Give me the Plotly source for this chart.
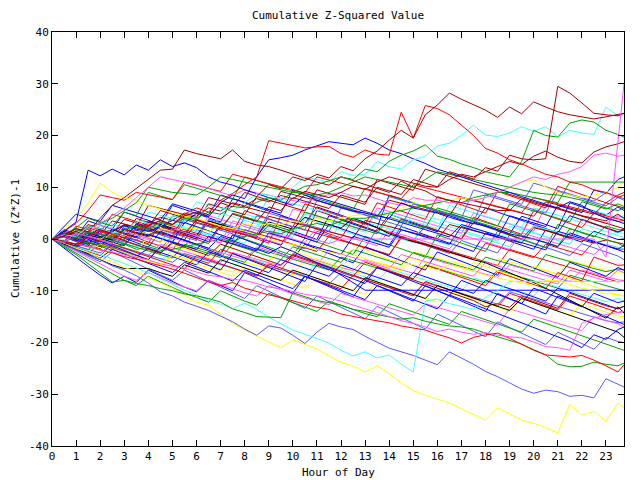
import plotly.graph_objects as go

HOURS = [0, 0.5, 1, 1.5, 2, 2.5, 3, 3.5, 4, 4.5, 5, 5.5,
         6, 6.5, 7, 7.5, 8, 8.5, 9, 9.5, 10, 10.5, 11, 11.5,
         12, 12.5, 13, 13.5, 14, 14.5, 15, 15.5, 16, 16.5, 17, 17.5,
         18, 18.5, 19, 19.5, 20, 20.5, 21, 21.5, 22, 22.5, 23, 23.5, 23.75]

X_TICKS = list(range(0, 24))
Y_TICKS = [-40, -30, -20, -10, 0, 10, 20, 30, 40]

RED = '#ff0000'
GREEN = '#00a000'
BLUE = '#0000ff'
MAGENTA = '#ff55ff'
CYAN = '#44ffff'
DKRED = '#a00000'
LTBLUE = '#5a5aff'
YELLOW = '#ffff00'
BLACK = '#000000'

Y1 = [0, -0.8, -1.8, -2.6, -3.8, -4.3, -5.5, -6.2, -7.5, -8.5, -9.5, -10.8,
      -12.2, -12.8, -14.5, -16.3, -17.6, -18.8, -19.9, -21, -19.5, -20.4, -21.2, -22.6,
      -23.8, -24.6, -25.7, -24.5, -26, -27.8, -29.3, -30.2, -30.9, -31.7, -32.8, -33.9,
      -35, -32.6, -33.8, -35, -35.6, -36.4, -37.5, -32, -34, -33.3, -35.2, -31.7, -32.6]
LB1 = [0, -1.2, -2, -3.1, -4, -5.2, -6, -7.1, -8.5, -10.2, -11, -12.2,
       -13, -13.8, -14.9, -16, -17.4, -18.6, -16.8, -17.2, -18.6, -20.2, -18, -16.3,
       -17, -17.5, -18.8, -20, -21.1, -21.8, -22.5, -23.4, -24.3, -21.8, -23, -24.2,
       -25.6, -26.6, -27.8, -29, -29.8, -29.2, -29.5, -30.4, -30.2, -30.7, -27, -28, -28.6]
C2 = [0, -0.8, -1.5, -2.3, -3, -3.9, -4.8, -5.6, -6.5, -7.7, -8.8, -9.9,
      -10.8, -11.8, -12.6, -13.4, -12.4, -13.6, -15.1, -16.4, -17.6, -18.4, -19.3, -20.1,
      -21.5, -22.6, -21.8, -23, -22.4, -24.2, -25.7, -12, -11.6, -12.5, -13, -13.6,
      -11.2, -10, -8.2, -8.2, -8.2, -8.2, -8.2, -8.2, -8.2, -8.2, -8.2, -8.2, -8.2]
G2 = [0, -1.6, -3, -4.8, -6.5, -8.3, -8, -8.6, -9, -9.6, -10, -10.6,
      -11, -11.5, -12.2, -13.5, -14.2, -15, -15.1, -15.2, -10.4, -11.2, -11.9, -12.3,
      -12.8, -13.6, -14, -14.6, -15, -15.5, -15.2, -15.9, -16.4, -16.8, -17, -17.4,
      -18.2, -18.9, -19.6, -20.3, -21.4, -22.4, -24.2, -24.7, -24.6, -23.8, -24.2, -24.5, -24]
R2 = [0, -0.5, -1.1, -1.6, -2, -2.7, -3.4, -3.9, -4.5, -5.2, -5.8, -6.6,
      -7.5, -8.3, -9, -8.4, -9.5, -10.2, -10.8, -11.3, -12, -12.6, -13.2, -13.6,
      -14.5, -15, -15.4, -15.8, -16.2, -16.8, -17.2, -17.6, -18.4, -19.1, -20.1, -19,
      -18.5, -18.2, -19.2, -20.4, -21.5, -22.4, -22.6, -22.8, -22.5, -23.4, -24.5, -25.7, -24.3]
M1 = [0, -0.3, -1, -1.4, -2.2, -2.5, -3.1, -3.6, -4, -4.8, -5.3, -5.6,
      -6.4, -7, -7.3, -7.8, -8, -8.6, -9.3, -9.6, -10.1, -10.7, -11, -11.4,
      -12, -12.8, -13.5, -14.2, -15, -15.8, -16.3, -17, -17.9, -17.4, -18, -18.4,
      -18.1, -18.6, -18.9, -19.1, -19.9, -20.8, -21, -21.5, -16.3, -15.3, -14.6, -14.2, -14]
DR1 = [0, 0.8, 2, 1.4, 4, 6.5, 8, 9.8, 11.5, 13.3, 13.5, 17.2,
       16.5, 16, 15.5, 17.2, 15, 14.3, 14, 13.3, 12.5, 11.8, 11, 10.4,
       12, 11.3, 10.5, 9.8, 9, 11.2, 10, 9.3, 8, 7.5, 7, 6.5,
       6, 5.5, 5.5, 7.8, 7, 6.4, 6, 5.2, 4.5, 4, 3.5, 4.8, 4]
DR2 = [0, 0.6, 1.5, 0.3, -0.5, 1.8, 1, 0.2, 2.6, 3.6, 2.8, 4.5,
       5.2, 4.4, 7, 6.2, 9, 8.2, 10.5, 9.7, 12, 11.3, 12.5, 11.8,
       14, 13.2, 15.5, 17, 19.1, 21, 19.5, 24, 25.9, 28.2, 27, 26,
       24.9, 23.5, 25.5, 24.2, 26.5, 25.5, 24.6, 24, 23.6, 23.2, 23.6, 24, 24.3]
DR3 = [0, -0.7, -1.4, 0.5, -0.2, -0.9, 1.8, 1.1, 0.4, 2.5, 1.8, 1.1,
       3.6, 2.9, 2.2, 4.8, 4.1, 3.4, 6.2, 5.5, 8, 7.3, 6.6, 5.9,
       8.5, 7.8, 7.1, 10, 9.3, 8.6, 11.5, 10.8, 10.1, 13, 12.3, 11.6,
       13.8, 13.1, 16.2, 15.5, 15.3, 15.5, 29.5, 28.2, 26.3, 24.3, 24, 23.8, 24.3]
DR4 = [0, 0.5, 1.2, 0.6, 2, 1.4, 2.8, 2.2, 3, 4.2, 3.6, 5,
       4.4, 6, 5.4, 7, 6.4, 7.8, 7.2, 8.4, 7.8, 9.2, 8.6, 8,
       9, 10.2, 9.6, 11, 12, 11.4, 10.8, 10.2, 10, 11.5, 12.5, 12,
       13, 14, 15, 14.4, 16, 17, 15.8, 15, 14.7, 16.8, 17.8, 18.4, 18.8]
R1 = [0, -0.5, -1, 0.5, 1.6, 0.9, 0.2, 1.8, 2.6, 3.5, 2.8, 4.8,
      6, 5.2, 7.5, 8.8, 10.5, 12, 19, 18.5, 18, 17.6, 17.8, 17.9,
      16.5, 15.8, 17.2, 16.4, 16.2, 24.5, 19.5, 25.8, 25.2, 24, 22, 20,
      17.5, 16.6, 15.3, 14.5, 13.5, 12.5, 12, 11, 10.5, 9.5, 9, 8, 8.5]
B1 = [0, 1.5, 3.3, 13.3, 12.2, 13.5, 12.4, 14.3, 13.3, 15.3, 14, 14.7,
      13.8, 12, 11, 10.4, 9.5, 8.8, 8, 7.2, 6.5, 8.5, 7.5, 6.7,
      6, 5.4, 5, 4.5, 4, 7, 6, 5.5, 5, 4.2, 3.5, 3,
      2.5, 1.8, 1, 0.5, 0, -0.7, -1.5, 1.2, 0.4, -0.4, -1.2, -2, -2.5]
B2 = [0, -0.5, -1, 0.8, 0.2, 1.5, 2.6, 1.9, 1.5, 2.4, 3.6, 3,
      5, 4.3, 7, 8.5, 7.8, 12, 15.3, 15.7, 16.2, 17.2, 18, 18.8,
      18.5, 18.2, 19.5, 18.5, 17.2, 16.5, 15.5, 14.6, 13.5, 12.8, 12, 11.2,
      10.5, 9.8, 9, 8.2, 7.5, 6.8, 6, 7.2, 6.5, 5, 4, 3.4, 3]
C1 = [0, 0.8, 0.5, 2.4, 2, 1.3, 1, 3.5, 3, 2.4, 4.5, 3.9,
      4, 6.5, 6, 5.5, 7, 8.8, 8.5, 7.8, 10, 12, 11.5, 11,
      13, 12.3, 12.5, 15, 14, 13.5, 15.3, 16, 18, 18.5, 20, 22,
      20.1, 19.8, 20.5, 21.7, 20.8, 21.7, 19.7, 21, 20.5, 20.2, 25.5, 23.8, 24]
G1 = [0, -0.5, 0.3, 1.2, 1, 0.4, 1.8, 2.5, 2, 3.2, 2.8, 4,
      4, 5.2, 4.8, 6.3, 6, 7.1, 8, 7.5, 9, 10.2, 10.5, 11.3,
      12, 11.5, 13.5, 13, 15, 16.2, 17, 18.2, 16, 15.4, 14.5, 13.8,
      13, 12.5, 12, 15, 21, 20, 19.7, 22.4, 23, 22.6, 21, 20.2, 19.7]
M2 = [0, -0.7, 1.2, 0.5, -0.2, -0.9, 1.5, 0.8, 0.1, -0.6, 2, 1.3,
      0.6, -0.1, -0.8, 1.8, 1.1, 0.4, -0.3, -1, 1.2, 0.5, -0.2, -0.9,
      0, 0, 0, 0, 0, 0, 0, 0, 0, 0, 0, 0,
      0, 0, 0, 0, 0, 0, 0, 0, 0, 0, -3.5, 19, 30]
M3 = [0, 0.4, 1, 2, 3, 4.5, 6, 8, 10, 12, 11.5, 11,
      10.5, 9.8, 9, 8.4, 9.5, 8.9, 8.5, 7.9, 7.5, 7, 8, 8.6,
      9, 8.3, 8.5, 7.8, 7, 6.5, 8, 7.5, 7.5, 7, 7, 7.5,
      8, 9, 10, 11, 12, 11.5, 12.5, 13, 14, 16.2, 16.6, 16, 16.2]
Y2 = [0, 2, 4, 7, 10.8, 9, 8, 7.5, 6.5, 5.8, 5, 4.4,
      4, 3.2, 2.5, 2, 1.5, 0.8, 0, -0.6, -1, -1.5, -2, -2.5,
      -3, -2, -2, -3, -4, -4.5, -5, -5.5, -6, -5, -5.5, -6.2,
      -7, -7.5, -8, -8.5, -9, -8, -8, -8.8, -9.5, -10, -10.5, -10.8, -11]
Y3 = [0, -0.5, -1, 0.5, 0, 1, 0.5, 1.5, 1, 2, 1.5, 2.2,
      2, 1.5, 2.5, 2, 3, 2.5, 3, 2.8, 3.5, 3, 4, 3.5,
      4, 4.5, 5, 4.5, 5, 6, 7, 6.5, 7, 7.5, 8, 7.5,
      8, 9, 10, 11, 11.5, 10, 9, 8.5, 8, 8.5, 9, 10, 11]
G3 = [0, -0.4, -1, -0.6, -1.2, -1.8, -1, -2, -1.5, -2.2, -2, -1.5,
      -1, -0.5, 0, -0.5, 0.5, 1, 1.5, 1, 2, 2.5, 3, 2.5,
      3.5, 4, 4, 4.5, 5, 5.5, 6, 6.5, 7, 7.5, 7, 8,
      8.5, 9, 9, 8.5, 8, 7.5, 7, 11, 11, 11, 11, 11, 11]
G4 = [0, 0.8, 1.5, 2.2, 3, 4, 5.5, 7, 10, 9.5, 9, 8.8,
      8.5, 10, 12, 11.5, 11, 10.5, 10, 9.5, 9, 8.8, 8.5, 9,
      10, 11, 12, 11.5, 11, 10.5, 10, 11.5, 13, 12.5, 12, 11.5,
      11, 10.5, 10, 9.5, 9, 8.7, 8.5, 8, 7.5, 6.8, 6, 5.5, 6]

MID01 = [0, 0.8, -0.2, -1, 1.6, 0.9, 0.2, 2.8, 2, 1.2, 0.6, -0.2,
         -1, -1.8, 0.5, -0.3, -1.2, -2, -2.8, -1.5, -2.4, -3.5, -4.6, -5.5,
         -7, -8.4, -9.9, -9.9, -9.9, -9.9, -9.9, -9.9, -9.9, -9.9, -9.9, -9.9,
         -9.9, -9.9, -9.9, -9.9, -9.9, -9.9, -9.9, -9.9, -9.9, -9.9, -9.9, -9.9, -9.9]
MID02 = [0, 0, 0, 0, 0, 0, -0.8, -1.5, 1, 0.3, -0.4, 3,
         2.3, 1.5, 0.8, 0, -0.8, 2.5, 1.8, 1, 0.3, 4, 3.3, 2.5,
         1.7, 1, 0.2, -0.6, 2.5, 1.8, 1, 0.3, -0.5, -1.2, 1.4, 0.7,
         0, -0.8, -1.5, 2, 1.3, 0.5, -0.3, -1, 3, 2.2, 1.5, 0.7, 0.3]
MID03 = [0, -1, -1.8, -0.5, -1.4, -2.2, 1, 0.3, -0.6, -1.3, -2.1, 0.8,
         0, -0.9, 2.5, 1.7, 0.8, 0, -0.8, 4.5, 3.6, 2.7, 1.9, 1,
         0.2, 3.8, 3, 2.1, 1.3, 0.5, -0.3, 2.5, 1.7, 0.9, 0, 4.2,
         3.4, 2.5, 1.7, 0.9, 5.5, 4.7, 3.8, 3, 2.2, 5, 4.2, 3.4, 3.6]
MID04 = [0, 0.6, -0.3, -1.1, -1.9, 0.4, -0.4, -1.2, -2, -2.8, -0.5, -1.3,
         -2.1, -2.9, -3.6, -1, -1.8, -2.6, -3.3, -4, -1.5, -2.3, -3, -3.8,
         -4.5, -2, -2.8, -3.5, -4.2, -5, -2.6, -3.3, -4, -4.7, -5.3, -6,
         -3.5, -4.2, -4.9, -5.5, -6.2, -3, -3.7, -4.4, -5, -5.7, -6.3, -5.8, -6]
MID05 = [0, 1.5, 0.7, -0.1, -0.8, 2, 1.2, 0.4, 3.5, 2.7, 1.9, 1.1,
         0.3, -0.5, 2.8, 2, 1.2, 0.4, -0.4, -1.2, 1.5, 0.7, -0.1, 4.5,
         3.7, 2.9, 2.1, 1.3, 0.5, 3.8, 3, 2.2, 1.4, 5, 4.2, 3.4,
         2.6, 1.8, 1, 4.4, 3.6, 2.8, 2, 7, 6.2, 5.4, 4.6, 6.2, 5.5]
MID06 = [0, -0.7, -1.4, -2.1, -0.4, -1.1, -1.8, -2.5, -3.2, -1, -1.7, -2.4,
         -3.1, -3.8, -4.5, -2.6, -3.3, -4, -4.6, -5.2, -2.8, -3.5, -4.2, -4.8,
         -5.5, -6.1, -4, -4.7, -5.3, -6, -6.6, -3.5, -4.2, -4.9, -5.6, -6.2,
         -6.8, -7.4, -5, -5.7, -6.3, -7, -7.6, -8.2, -6, -6.7, -7.3, -7.9, -8]
MID07 = [0, 1.2, 0.5, 2.8, 2, 1.2, 0.5, 4, 3.2, 2.4, 1.6, 0.8,
         0, 3.5, 2.7, 1.9, 1.1, 0.3, 2.6, 1.8, 1, 0.2, 5.5, 4.7,
         3.9, 3.1, 2.3, 1.5, 4.8, 4, 3.2, 2.4, 1.6, 0.8, 0, 3.2,
         2.4, 1.6, 0.8, 0, 2.5, 1.7, 0.9, 0.1, 3.8, 3, 2.2, 1.4, 1.7]
MID08 = [0, -0.5, 1.5, 0.8, 0, -0.7, 2.5, 1.7, 0.9, 0.1, -0.7, -1.5,
         1.8, 1, 0.2, -0.6, -1.4, -2.2, 0.5, -0.3, -1.1, -1.9, 1.5, 0.7,
         -0.1, -0.9, -1.7, 2, 1.2, 0.4, -0.4, -1.2, -2, -2.8, -0.3, -1.1,
         -1.9, -2.7, 0.8, 0, -0.8, -1.6, -2.4, -3.2, -0.9, -1.7, -2.5, -3.3, -4]
MID09 = [0, -0.9, -1.7, -2.5, -3.2, -2, -2.8, -3.5, -4.2, -4.9, -3, -3.7,
         -4.4, -5.1, -5.8, -6.4, -4.5, -5.1, -5.7, -6.3, -6.9, -3.8, -4.4, -5,
         -5.6, -6.2, -6.8, -4.5, -5.1, -5.7, -2.5, -3.1, -3.7, -4.3, -4.9, -5.5,
         -6.1, -3.8, -4.4, -5, -5.6, -6.2, -6.8, -4.2, -4.8, -5.4, -6, -6.6, -6.5]
MID10 = [0, -0.8, -1.6, -0.2, -1, -1.8, -2.6, -3.4, -1.8, -2.6, -3.4, -4.2,
         -5, -2.5, -3.3, -4.1, -4.9, -5.7, -6.5, -4, -4.8, -5.6, -6.4, -7.2,
         -5, -5.8, -6.6, -7.4, -8.2, -9, -6.5, -7.3, -8.1, -8.9, -9.7, -10.5,
         -8, -8.8, -9.6, -10.4, -11.2, -12, -9.5, -10.3, -11.1, -11.9, -12.7, -13.5, -13]
MID11 = [0, 0.7, 0, -0.7, -1.4, 1.2, 0.5, -0.2, -0.9, 3.2, 2.5, 1.8,
         1.1, 0.4, -0.3, -1, 1.8, 1.1, 0.4, -0.3, -1, -1.7, -2.4, 0.5,
         -0.2, -0.9, -1.6, -2.3, -3, 0.2, -0.5, -1.2, -1.9, -2.6, -3.3, -4,
         -0.8, -1.5, -2.2, -2.9, -3.6, -1, -1.7, -2.4, -3.1, -0.5, -1.2, -1.9, -2]
MID12 = [0, -0.6, 1.8, 1.1, 0.4, -0.3, -1, 2.5, 1.8, 1.1, 4.5, 3.8,
         3.1, 2.4, 1.7, 5, 4.3, 3.6, 2.9, 2.2, 1.5, 5.2, 4.5, 3.8,
         3.1, 2.4, 1.7, 1, 4.2, 3.5, 2.8, 2.1, 6, 5.3, 4.6, 3.9,
         3.2, 2.5, 6.8, 6.1, 5.4, 4.7, 4, 3.3, 7.2, 6.5, 5.8, 6.8, 6.3]
MID13 = [0, -0.8, -1.5, -2.2, -0.6, -1.3, -2, -2.7, -3.4, -4.1, -2.2, -2.9,
         -3.6, -4.3, -5, -5.7, -3.5, -4.2, -4.9, -5.6, -6.3, -7, -4.5, -5.2,
         -5.9, -6.6, -7.3, -8, -5.8, -6.5, -7.2, -7.9, -8.6, -9.3, -10, -7.5,
         -8.2, -8.9, -9.6, -10.3, -11, -8.6, -9.3, -10, -10.7, -11.4, -12.1, -11.5, -12]
MID14 = [0, 0.5, -0.3, 1.2, 0.5, -0.2, 2, 1.3, 0.6, 2.8, 2.1, 1.4,
         0.7, 3.5, 2.8, 2.1, 1.4, 0.7, 3.3, 2.6, 1.9, 4.2, 3.5, 2.8,
         2.1, 4, 3.2, 2.2, 1, 0.2, -0.5, -1, -1.8, -2.5, -3.2, -4,
         -4.6, -5.6, -6.6, -7.5, -8.4, -9.5, -10.6, -11.8, -13, -14.2, -15.3, -13.1, -14.3]
MID15 = [0, -1, -2, -3, -4, -5, -5.7, -5.7, -5.7, -6.5, -7.2, -5,
         -5.8, -6.6, -4, -4.8, -5.6, -6.4, -7.2, -8, -6, -6.8, -7.6, -8.4,
         -9.2, -10, -7.5, -8.3, -9.1, -9.9, -10.7, -11.5, -9, -9.8, -10.6, -11.4,
         -12.2, -13, -13.8, -11.5, -12.3, -13.1, -13.9, -14.7, -15.5, -16.3, -17.1, -18, -19]
MID16 = [0, 1, 0.2, -0.6, -1.4, 0.5, -0.3, -1.1, -1.9, -2.7, -0.8, -1.6,
         -2.4, -3.2, -1, -1.8, -2.6, -3.4, -4.2, -5, -3, -3.8, -4.6, -5.4,
         -6.2, -7, -7.8, -5.5, -6.3, -7.1, -7.9, -8.7, -9.5, -10.3, -11.1, -11.9,
         -13.1, -12.5, -13.2, -11, -11.8, -12.6, -13.4, -10.5, -11.3, -12.1, -12.9, -13.5, -13]
MID17 = [0, -0.6, -1.3, -2, -2.7, -1, -1.7, -2.4, -3.1, -3.8, -4.5, -2.8,
         -3.5, -4.2, -4.9, -5.6, -6.3, -7, -5.2, -5.9, -6.6, -7.3, -8, -8.7,
         -6.5, -7.2, -7.9, -8.6, -9.3, -10, -10.7, -8.4, -9.1, -9.8, -10.5, -11.2,
         -11.9, -12.6, -10.2, -10.9, -11.6, -12.3, -13, -13.7, -14.4, -15.1, -15.8, -16.2, -16]
MID18 = [0, 1.5, 0.8, 0.1, 2.6, 1.9, 1.2, 0.5, -0.2, 2.8, 2.1, 1.4,
         0.7, 0, -0.7, 3.5, 2.8, 2.1, 1.4, 0.7, 0, -0.7, 2.2, 1.5,
         0.8, 0.1, -0.6, -1.3, 1.6, 0.9, 0.2, -0.5, -1.2, -1.9, 0.8, 0.1,
         -0.6, -1.3, -2, 1.2, 0.5, -0.2, -0.9, -1.6, -2.3, -3, -1, -1.7, -2]
MID19 = [0, -0.7, -1.4, 0.8, 0.1, -0.6, -1.3, 1.5, 0.8, 0.1, -0.6, -1.3,
         -2, 0.5, -0.2, -0.9, -1.6, -2.3, 1.2, 0.5, -0.2, -0.9, -1.6, -2.3,
         -3, 0.5, -0.2, -0.9, -1.6, 1.8, 1.1, 0.4, -0.3, -1, 2.4, 1.7,
         1, 0.3, 4.5, 3.8, 3.1, 2.4, 6.5, 5.8, 5.1, 9.5, 8.8, 11.5, 12]
MID20 = [0, -1, -2, -2.8, -0.8, -1.6, -2.4, -3.2, -4, -1.5, -2.3, -3.1,
         -3.9, -4.7, -2, -2.8, -3.6, -4.4, -5.2, -6, -3.2, -4, -4.8, -5.6,
         -6.4, -7.2, -4.5, -5.3, -6.1, -6.9, -7.7, -5, -5.8, -6.6, -7.4, -8.2,
         -9, -6.4, -7.2, -8, -8.8, -9.6, -6.5, -7.3, -8.1, -3.5, -4.3, -5.1, -5]
MID21 = [0, 0.9, 0.1, -0.7, -1.5, 1.3, 0.5, -0.3, -1.1, -1.9, 0.6, -0.2,
         -1, -1.8, -2.6, 0.8, 0, -0.8, -1.6, -2.4, -3.2, 0.2, -0.6, -1.4,
         -2.2, -3, 0.5, -0.3, -1.1, -1.9, -2.7, -3.5, 0.8, 0, -0.8, -1.6,
         -2.4, 1.5, 0.7, -0.1, -0.9, -1.7, 2.8, 2, 1.2, 0.4, 2.5, 1.8, 1.7]
MID22 = [0, 1.8, 1, 0.2, -0.6, -1.4, 2.5, 1.7, 0.9, 0.1, -0.7, 3.2,
         2.4, 1.6, 0.8, 0, 4.2, 3.4, 2.6, 1.8, 1, 0.2, -0.6, 2.8,
         2, 1.2, 0.4, -0.4, -1.2, 2.4, 1.6, 0.8, 0, -0.8, -1.6, -2.4,
         1.2, 0.4, -0.4, -1.2, -2, 1.8, 1, 0.2, -0.6, 1.5, 0.7, -0.1, 0]
MID23 = [0, -0.5, 1.5, 0.8, 2.8, 2.1, 1.4, 0.7, 0, 3.5, 2.8, 2.1,
         1.4, 0.7, 5, 4.3, 3.6, 2.9, 2.2, 1.5, 0.8, 4.8, 4.1, 3.4,
         2.7, 2, 1.3, 5.5, 4.8, 4.1, 3.4, 2.7, 2, 6.5, 5.8, 5.1,
         4.4, 3.7, 3, 2.3, 6, 5.3, 4.6, 3.9, 3.2, 5.5, 4.8, 4.1, 4.5]
MID24 = [0, -0.8, -1.6, -2.4, -1, -1.8, -2.6, -3.4, -4.2, -5, -3.2, -4,
         -4.8, -5.6, -6.4, -7.2, -5.5, -6.3, -7.1, -7.9, -8.7, -9.5, -7.5, -8.3,
         -9.1, -9.9, -10.7, -8.2, -9, -9.8, -10.6, -11.4, -12.2, -10, -10.8, -11.6,
         -12.4, -13.2, -14, -11.5, -12.3, -13.1, -13.9, -14.7, -12.5, -13.3, -14.1, -14.9, -15]
MID25 = [0, -0.6, -1.2, 1.5, 0.9, 0.3, 2.8, 2.2, 1.6, 1, 0.4, -0.2,
         3.2, 2.6, 2, 1.4, 0.8, 0.2, 4.4, 3.8, 3.2, 2.6, 2, 1.4,
         0.8, 0.2, 3.6, 3, 2.4, 1.8, 1.2, 0.6, 0, 2.8, 2.2, 1.6,
         1, 0.4, -0.2, -0.8, 2.2, 1.6, 1, 0.4, -0.2, -0.8, -0.2, -0.8, -1]
MID26 = [0, -1, -1.9, -2.8, -3.7, -2, -2.9, -3.8, -4.7, -5.6, -6.5, -4.5,
         -5.4, -6.3, -7.2, -8.1, -6, -6.9, -7.8, -8.7, -9.6, -7.2, -8.1, -9,
         -9.9, -10.8, -11.7, -9, -9.9, -10.8, -11.7, -12.6, -13.5, -10.8, -11.7, -12.6,
         -13.5, -14.4, -15.3, -16.2, -17.1, -18, -18.9, -19.8, -21, -18.5, -19.4, -17.5, -17]
MID27 = [0, 0.5, -0.3, 2.2, 1.4, 0.6, -0.2, 3, 2.2, 1.4, 0.6, 4.5,
         3.7, 2.9, 2.1, 1.3, 5.5, 4.7, 3.9, 3.1, 2.3, 6.8, 6, 5.2,
         4.4, 3.6, 2.8, 7, 6.2, 5.4, 4.6, 3.8, 8.2, 7.4, 6.6, 5.8,
         5, 9.2, 8.4, 7.6, 6.8, 6, 10.2, 9.4, 8.6, 7.8, 7, 8.5, 9]
MID28 = [0, 1, 0.3, -0.4, 1.8, 1.1, 0.4, -0.3, 2.5, 1.8, 1.1, 0.4,
         -0.3, 3.8, 3.1, 2.4, 1.7, 1, 5, 4.3, 3.6, 2.9, 2.2, 1.5,
         6, 5.3, 4.6, 3.9, 3.2, 2.5, 6.8, 6.1, 5.4, 4.7, 4, 3.3,
         8.5, 7.8, 7.1, 6.4, 5.7, 5, 9.2, 8.5, 7.8, 7.1, 6.4, 8, 7.5]
MID29 = [0, -1.8, -3.6, -5.3, -7, -8.5, -7.2, -8.4, -6, -7.1, -8.2, -9.3,
         -10.2, -8, -9, -10, -6.5, -7.5, -8.5, -9.5, -10.5, -7.2, -8.2, -9.2,
         -10.2, -11.2, -8, -9, -10, -11, -12, -9, -10, -11, -12, -13,
         -14, -10.5, -11.5, -12.5, -13.5, -14.5, -11, -12, -13, -14, -15, -16, -16.5]
MID30 = [0, -1.4, -2.8, -4.1, -5.4, -6.7, -8, -9, -7.2, -8.3, -9.4, -10.4,
         -11.3, -12.2, -10, -11, -12, -12.8, -10.5, -11.4, -12.3, -13.2, -14, -12,
         -12.8, -13.6, -14.4, -15, -12.5, -13.3, -14.1, -14.9, -15.7, -16.5, -14, -14.8,
         -15.6, -16.4, -17.2, -18, -15.5, -16.3, -17.1, -17.9, -18.7, -19.5, -20.2, -21, -21.5]
MID31 = [0, -1.2, -2.4, -3.6, -4.8, -6, -7.2, -8, -6.5, -7.5, -8.5, -9.3,
         -10, -8, -8.8, -9.6, -10.4, -11, -9, -9.8, -10.6, -11.4, -12, -12.7,
         -10.5, -11.2, -11.9, -12.6, -13.3, -14, -14.7, -12.5, -13.2, -13.9, -14.6, -15.3,
         -16, -16.7, -13.5, -14.2, -14.9, -15.6, -16.3, -17, -17.7, -15, -15.7, -16.4, -17]
MID32 = [0, -0.5, -1.3, 0.8, 0, -0.8, -1.6, -2.4, 0.5, -0.3, -1.1, -1.9,
         -2.7, -3.5, -1, -1.8, -2.6, -3.4, -4.2, -1.5, -2.3, -3.1, -3.9, -4.7,
         -5.5, -3, -3.8, -4.6, -5.4, -6.2, -3.8, -4.6, -5.4, -6.2, -7, -4.5,
         -5.3, -6.1, -6.9, -7.7, -5.2, -6, -6.8, -7.6, -8.4, -9.2, -10, -10.8, -11]
MID33 = [0, 1.5, 3, 5.5, 8.5, 8, 7.5, 9, 8.6, 8.1, 7.6, 11,
         10.4, 9.8, 9.2, 12.5, 11.9, 11.3, 10.7, 10.1, 9.5, 8.9, 12, 11.4,
         10.8, 10.2, 9.6, 9, 8.4, 7.8, 10.5, 9.9, 9.3, 8.7, 8.1, 7.5,
         6.9, 6.3, 5.7, 5.1, 8, 7.4, 6.8, 6.2, 5.6, 5, 4.4, 3.8, 3.6]
MID34 = [0, 2.5, 4.8, 4.1, 3.4, 6.5, 5.8, 5.1, 4.4, 3.7, 6.8, 6.1,
         5.4, 4.7, 8.5, 7.8, 7.1, 6.4, 5.7, 5, 9.5, 8.8, 8.1, 7.4,
         6.7, 6, 5.3, 4.6, 3.9, 3.2, 2.5, 1.8, 1.1, 0.4, 2.8, 2.1,
         1.4, 0.7, 0, -0.7, -1.4, -2.1, 1.5, 0.8, 0.1, -0.6, -1.3, -2, -1.2]
MID35 = [0, 0.8, 2.2, 4, 3.2, 2.5, 5.2, 4.5, 9, 8.3, 7.6, 10.5,
         9.8, 9.1, 8.4, 7.7, 12, 11.3, 10.6, 9.9, 9.2, 8.5, 7.8, 7.1,
         6.4, 5.7, 9.8, 9.1, 8.4, 7.7, 7, 6.3, 5.6, 4.9, 4.2, 3.5,
         2.8, 2.1, 1.4, 0.7, 0, -0.7, -1.4, 2, 1.3, 0.6, -0.1, -0.8, -1.5]
MID36 = [0, -0.6, 1.2, 0.6, 3.5, 2.9, 2.3, 1.7, 5.2, 4.6, 4, 3.4,
         7.2, 6.6, 6, 5.4, 4.8, 4.2, 8, 7.4, 6.8, 6.2, 5.6, 5,
         4.4, 3.8, 3.2, 2.6, 2, 1.4, 5, 4.4, 3.8, 3.2, 2.6, 2,
         1.4, 0.8, 0.2, -0.4, 2.5, 1.9, 1.3, 0.7, 0.1, -0.5, -1.1, -1.7, -2]
MID37 = [0, 0.5, -0.2, 1.5, 0.8, 0.1, -0.6, 2.2, 1.5, 0.8, 0.1, 3.8,
         3.1, 2.4, 1.7, 1, 0.3, 4.5, 3.8, 3.1, 2.4, 1.7, 7.5, 6.8,
         6.1, 5.4, 4.7, 4, 8.2, 7.5, 6.8, 6.1, 5.4, 4.7, 4, 9.5,
         8.8, 8.1, 7.4, 6.7, 10.8, 10.1, 9.4, 8.7, 8, 7.3, 9, 8.3, 7.8]
MID38 = [0, 0.4, -0.3, -1, 1, 0.3, -0.4, -1.1, -1.8, -2.5, 0.2, -0.5,
         -1.2, -1.9, -2.6, -3.3, -4, -1.5, -2.2, -2.9, -3.6, -4.3, -5, -2.2,
         -2.9, -3.6, -4.3, -5, -5.7, -3, -3.7, -4.4, -5.1, -5.8, -6.5, -7.2,
         -4.5, -5.2, -5.9, -6.6, -7.3, -8, -8.7, -6, -6.7, -7.4, -8.1, -6, -6.5]
MID39 = [0, 0.8, 0, 2.5, 1.8, 1.1, 3.8, 3.1, 2.4, 5.5, 4.8, 4.1,
         3.4, 6.8, 6.1, 5.4, 4.7, 8.2, 7.5, 6.8, 6.1, 5.4, 9.5, 8.8,
         8.1, 7.4, 6.7, 11.5, 10.8, 10.1, 9.4, 13.5, 12.8, 12.1, 11.4, 10.7,
         10, 9.3, 8.6, 7.9, 7.2, 6.5, 5.8, 5.1, 4.4, 3.7, 3, 2.3, 2]
MID40 = [0, 1.2, 0.4, 3.5, 2.7, 1.9, 5.2, 4.4, 3.6, 2.8, 6.5, 5.7,
         4.9, 4.1, 3.3, 7.8, 7, 6.2, 5.4, 4.6, 3.8, 3, 6.2, 5.4,
         4.6, 3.8, 3, 2.2, 8.5, 7.7, 6.9, 6.1, 5.3, 4.5, 3.7, 2.9,
         6, 5.2, 4.4, 3.6, 2.8, 2, 1.2, 4.5, 3.7, 2.9, 2.1, 1.3, 2]
MID41 = [0, -0.5, 2.5, 1.8, 1.1, 4.8, 4.1, 3.4, 2.7, 2, 1.3, 0.6,
         3.8, 3.1, 2.4, 1.7, 1, 0.3, -0.4, -1.1, 2.5, 1.8, 1.1, 0.4,
         -0.3, -1, -1.7, -2.4, -3.1, 0.5, -0.2, -0.9, -1.6, -2.3, -3, -3.7,
         -4.4, -5.1, -2, -2.7, -3.4, -4.1, -4.8, -5.5, -6.2, -6.9, -7.6, -8.3, -8]
MID42 = [0, -0.9, -1.8, 0.5, -0.4, -1.3, -2.2, -3.1, -4, -1.5, -2.4, -3.3,
         -4.2, -5.1, -6, -2.8, -3.7, -4.6, -5.5, -6.4, -7.3, -8.2, -5, -5.9,
         -6.8, -7.7, -8.6, -5.5, -6.4, -7.3, -8.2, -9.1, -10, -10.9, -8, -8.9,
         -9.8, -10.7, -11.6, -12.5, -9.5, -10.4, -11.3, -12.2, -13.1, -10.5, -11.4, -12.3, -12]
MID43 = [0, 0.6, 2, 1.4, 0.8, 3.5, 2.9, 2.3, 6.5, 5.9, 5.3, 4.7,
         4.1, 8, 7.4, 6.8, 6.2, 5.6, 5, 9.2, 8.6, 8, 7.4, 6.8,
         6.2, 5.6, 5, 4.4, 7.5, 6.9, 6.3, 5.7, 5.1, 4.5, 8, 7.4,
         6.8, 6.2, 5.6, 5, 4.4, 7.2, 6.6, 6, 5.4, 4.8, 7, 6.4, 6]
MID44 = [0, -0.7, -1.4, -2.1, 0.5, -0.2, -0.9, -1.6, -2.3, -3, -3.7, -1,
         -1.7, -2.4, -3.1, -3.8, -4.5, -1.8, -2.5, -3.2, -3.9, -4.6, -5.3, -6,
         -3.5, -4.2, -4.9, -5.6, -6.3, -7, -7.7, -5, -5.7, -6.4, -7.1, -7.8,
         -8.5, -6, -6.7, -7.4, -8.1, -8.8, -9.5, -7, -7.7, -8.4, -9.1, -9.8, -10]
MID45 = [0, -1.1, -2.2, -3.3, -4.4, -2.5, -3.6, -4.7, -5.8, -6.9, -8, -6,
         -7.1, -8.2, -9.3, -10.4, -11.5, -9, -10.1, -11.2, -12.3, -13.4, -11, -12.1,
         -13.2, -14.3, -15.4, -13, -14.1, -15.2, -16.3, -17.4, -14.5, -15.6, -16.7, -17.8,
         -18.9, -16, -17.1, -18.2, -19.3, -20.4, -18, -19.1, -20.2, -21.3, -19, -19.8, -20]
MID46 = [0, -0.8, -1.6, -2.4, -3.2, -1, -1.8, -2.6, -3.4, -4.2, -5, -5.8,
         -3.2, -4, -4.8, -5.6, -6.4, -7.2, -4.8, -5.6, -6.4, -7.2, -8, -8.8,
         -9.6, -7, -7.8, -8.6, -9.4, -10.2, -11, -8.2, -9, -9.8, -10.6, -11.4,
         -12.2, -13, -10.5, -11.3, -12.1, -12.9, -13.7, -11, -11.8, -12.6, -13.4, -14.2, -14]
MID47 = [0, 0.5, -0.2, -0.9, 1.8, 1.1, 0.4, -0.3, 3.2, 2.5, 1.8, 1.1,
         0.4, 4.5, 3.8, 3.1, 2.4, 1.7, 1, 0.3, 5.8, 5.1, 4.4, 3.7,
         3, 2.3, 1.6, 6, 5.3, 4.6, 3.9, 3.2, 2.5, 1.8, 1.1, 5,
         4.3, 3.6, 2.9, 2.2, 1.5, 6.5, 5.8, 5.1, 4.4, 3.7, 3, 4.5, 4]
MID48 = [0, 0.4, -0.5, -1.4, 2, 1.1, 0.2, -0.7, -1.6, 1.5, 0.6, -0.3,
         -1.2, -2.1, -3, 0.8, -0.1, -1, -1.9, -2.8, -3.7, -1, -1.9, -2.8,
         -3.7, -4.6, -1.5, -2.4, -3.3, -4.2, -5.1, -6, -2.5, -3.4, -4.3, -5.2,
         -6.1, -7, -3.8, -4.7, -5.6, -6.5, -7.4, -4.5, -5.4, -6.3, -7.2, -5.5, -6]
MID49 = [0, 1, 0.3, -0.4, -1.1, 2.2, 1.5, 0.8, 0.1, -0.6, 3, 2.3,
         1.6, 0.9, 0.2, -0.5, 4, 3.3, 2.6, 1.9, 1.2, 0.5, -0.2, -0.9,
         3.5, 2.8, 2.1, 1.4, 0.7, 0, -0.7, 3.8, 3.1, 2.4, 1.7, 1,
         0.3, -0.4, 2.5, 1.8, 1.1, 0.4, -0.3, -1, 2, 1.3, 0.6, 1.4, 1]

SERIES = [
    (MID02, CYAN), (MID08, LTBLUE), (MID21, GREEN), (MID03, RED), (MID22, BLUE),
    (MID49, CYAN), (MID40, BLUE), (MID41, RED), (MID47, MAGENTA),
    (MID18, MAGENTA), (MID07, DKRED), (MID09, YELLOW), (MID04, GREEN), (MID05, BLUE),
    (MID11, RED), (MID23, CYAN), (MID12, GREEN), (MID06, MAGENTA), (MID25, DKRED),
    (MID43, DKRED), (MID44, GREEN), (MID48, BLUE),
    (MID36, CYAN), (MID38, MAGENTA), (MID32, YELLOW), (MID13, CYAN), (MID20, RED),
    (MID10, BLUE), (MID16, DKRED), (MID17, LTBLUE), (MID24, YELLOW), (MID29, BLUE),
    (MID42, BLUE), (MID45, LTBLUE), (MID46, RED),
    (MID30, GREEN), (MID31, MAGENTA), (MID26, BLUE), (MID15, BLACK), (MID14, BLACK),
    (MID27, RED), (MID28, LTBLUE), (MID37, LTBLUE), (MID19, BLUE), (MID34, BLUE),
    (MID35, GREEN), (MID33, RED), (MID39, DKRED), (MID01, BLUE),
    (Y1, YELLOW), (LB1, LTBLUE), (C2, CYAN), (G2, GREEN), (R2, RED), (M1, MAGENTA),
    (Y2, YELLOW), (Y3, YELLOW), (G3, GREEN), (G4, GREEN), (M3, MAGENTA),
    (DR1, DKRED), (DR4, DKRED), (B1, BLUE), (B2, BLUE), (C1, CYAN), (G1, GREEN),
    (R1, RED), (DR2, DKRED), (DR3, DKRED), (M2, MAGENTA),
]

for i, (vals, _) in enumerate(SERIES):
    assert len(vals) == len(HOURS), f"series {i} has {len(vals)} values"

FONT = 'DejaVu Sans Mono'

fig = go.Figure()
for vals, col in SERIES:
    fig.add_trace(go.Scatter(x=HOURS, y=vals, mode='lines',
                             line=dict(color=col, width=1),
                             hoverinfo='skip', showlegend=False))

axis_common = dict(showline=True, linecolor='black', linewidth=1, mirror='allticks',
                   ticks='inside', ticklen=6, tickcolor='black', tickwidth=1,
                   showgrid=False, zeroline=False,
                   tickfont=dict(family=FONT, size=11, color='black'))

fig.update_xaxes(range=[0, 23.75], tickmode='array', tickvals=X_TICKS,
                 ticktext=[str(v) for v in X_TICKS], **axis_common)
fig.update_yaxes(range=[-40, 40], tickmode='array', tickvals=Y_TICKS,
                 ticktext=[str(v) for v in Y_TICKS], **axis_common)

# the page body has an 8px default margin, so the figure is 632x472 and offset by 8px
fig.update_layout(
    width=632, height=472,
    margin=dict(l=44, r=16, t=24, b=34, pad=0),
    paper_bgcolor='white', plot_bgcolor='white',
    showlegend=False,
    font=dict(family=FONT, size=11, color='black'),
    title=dict(text='Cumulative Z-Squared Value', x=0.5, xref='paper',
               y=1 - 7 / 472, yref='container', yanchor='middle', xanchor='center',
               font=dict(family=FONT, size=11, color='black')),
    annotations=[
        dict(text='Hour of Day', xref='paper', yref='paper', x=0.5, y=-(472 - 446) / 414,
             xanchor='center', yanchor='middle', showarrow=False,
             font=dict(family=FONT, size=11, color='black')),
        dict(text='Cumulative (Z*Z)-1', xref='paper', yref='paper', x=-37 / 572,
             y=0.5, xanchor='center', yanchor='middle', showarrow=False, textangle=-90,
             font=dict(family=FONT, size=11, color='black')),
    ],
)

fig.write_html('out.html')
